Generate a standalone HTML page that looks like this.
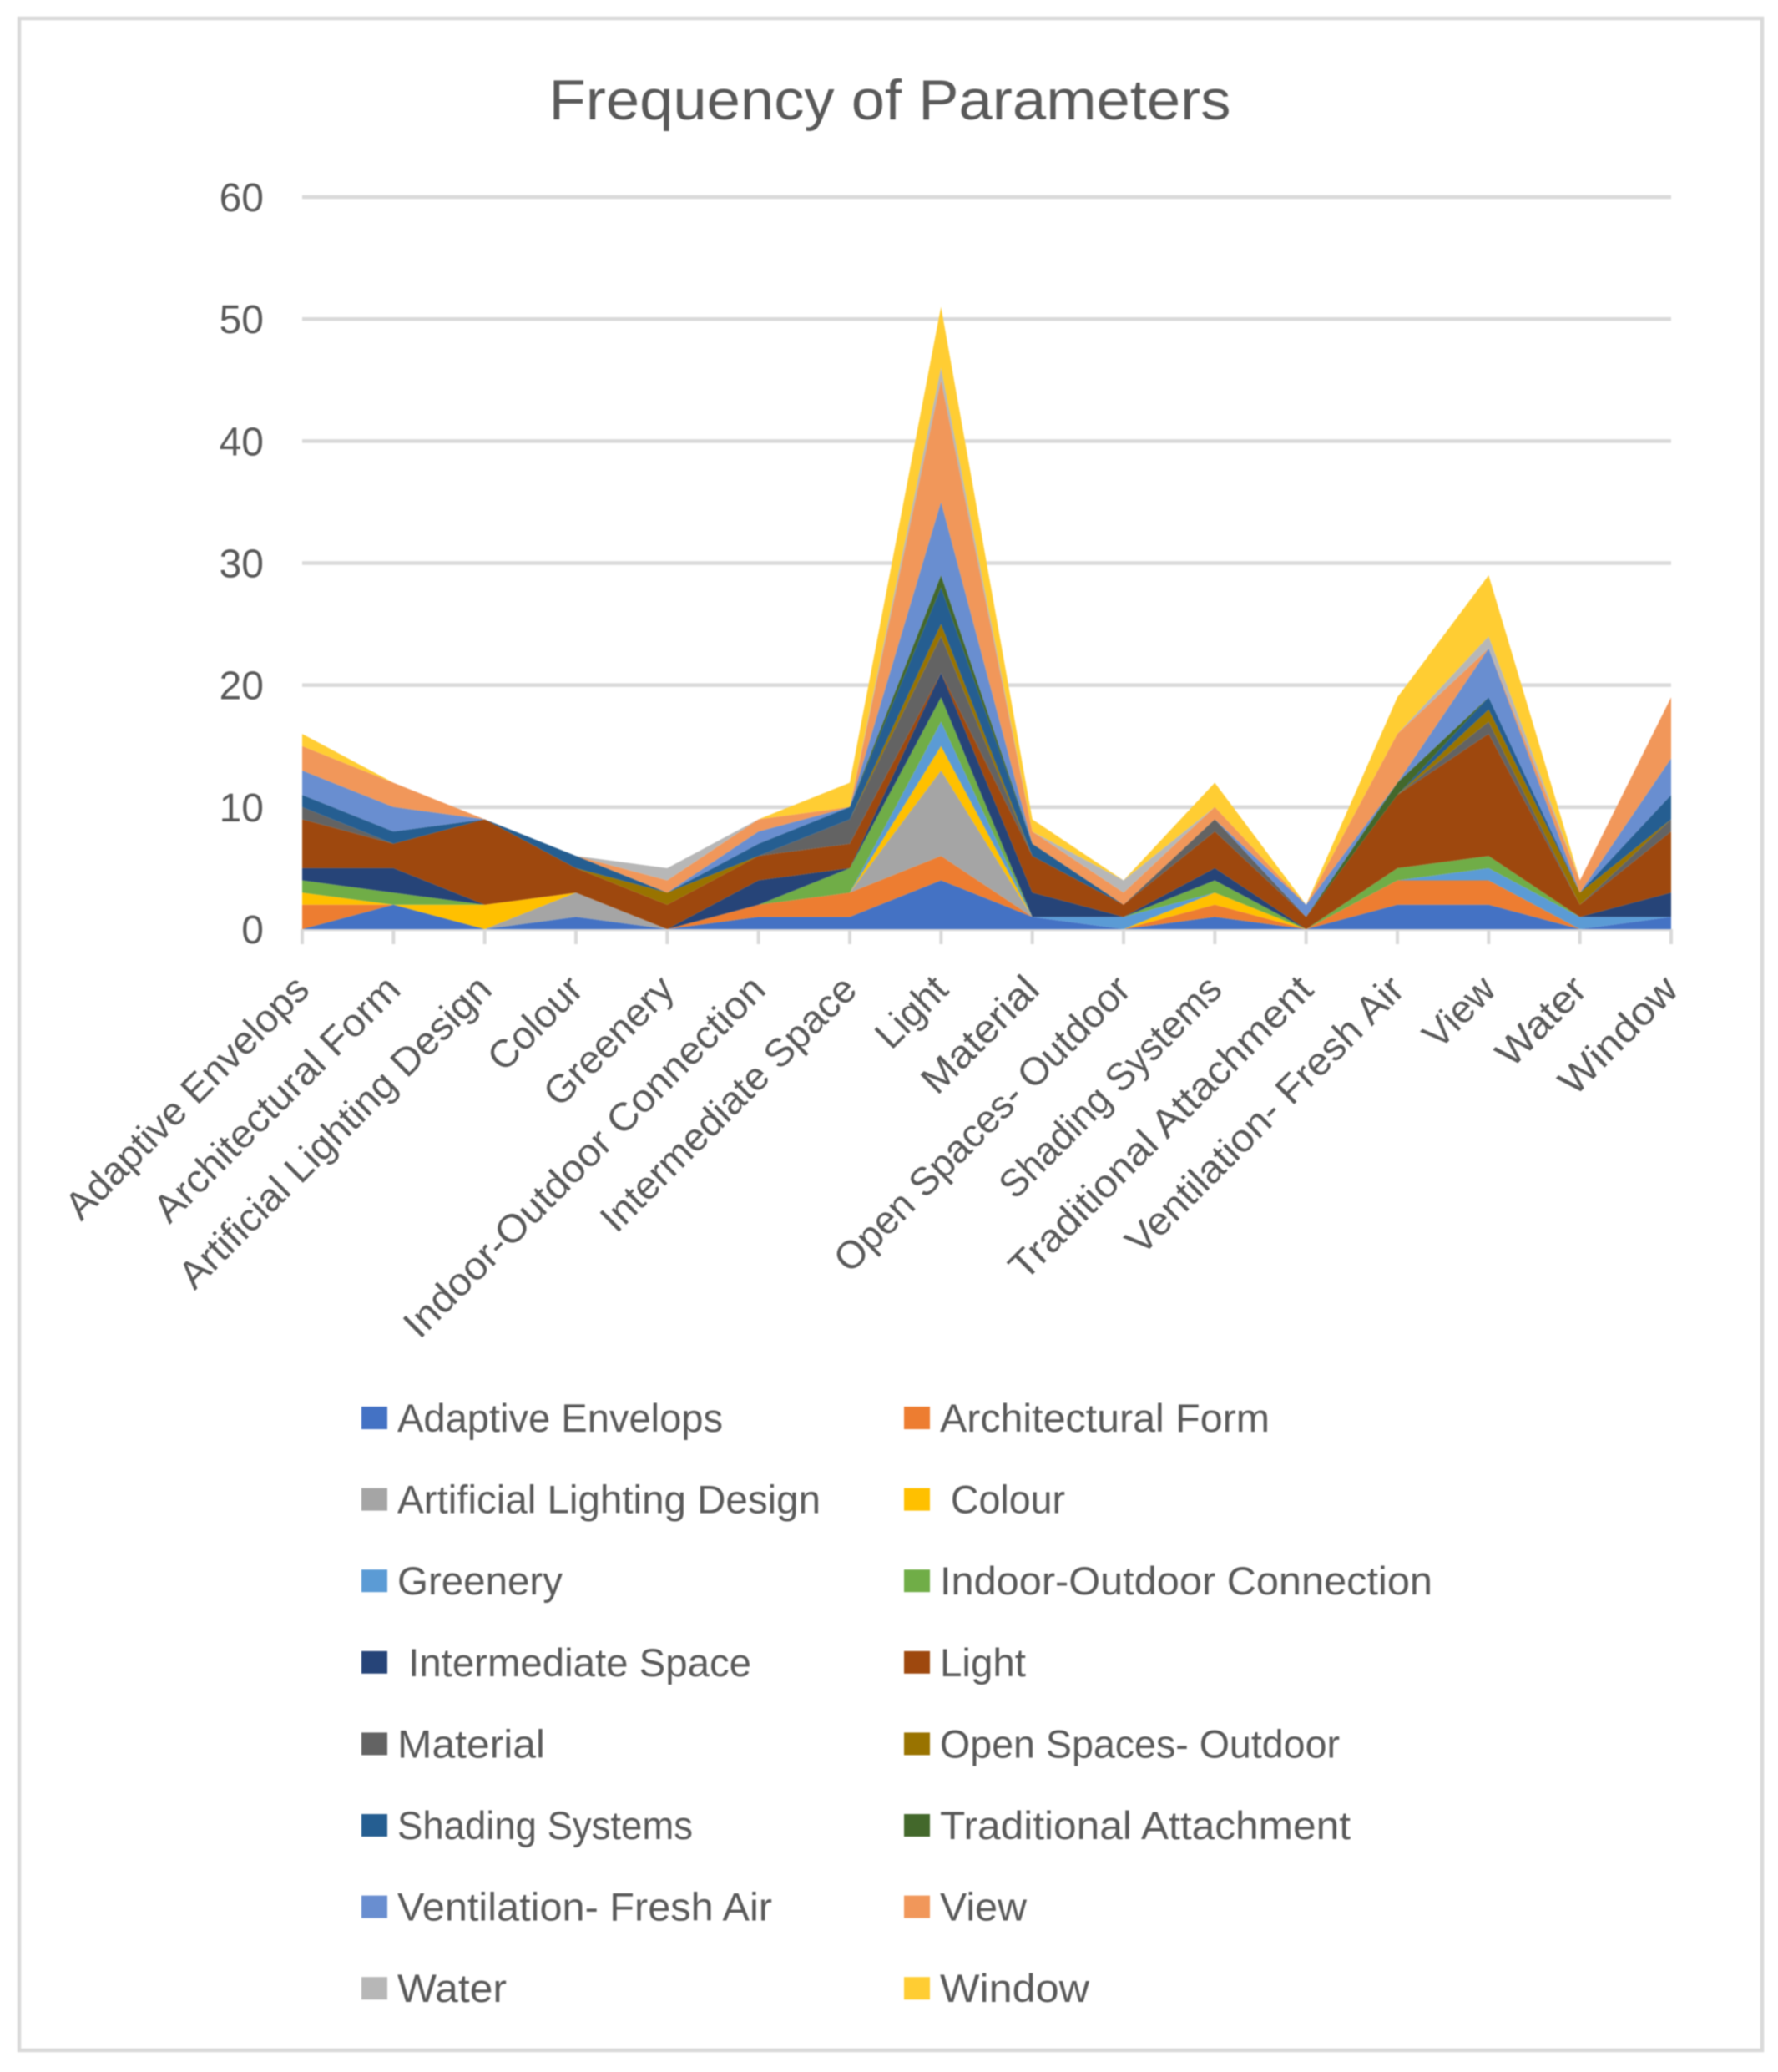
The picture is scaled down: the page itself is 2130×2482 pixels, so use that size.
<!DOCTYPE html>
<html lang="en">
<head>
<meta charset="utf-8">
<title>Frequency of Parameters</title>
<style>
html,body{margin:0;padding:0;background:#fff;width:2130px;height:2482px;overflow:hidden}
svg{display:block;filter:blur(0.8px)}
text{font-family:"Liberation Sans",sans-serif;fill:#595959;white-space:pre}
</style>
</head>
<body>
<svg id="chart" xmlns="http://www.w3.org/2000/svg" width="2130" height="2482" viewBox="0 0 2130 2482">
  <rect x="0" y="0" width="2130" height="2482" fill="#ffffff"/>
  <rect x="23" y="22" width="2088" height="2434" fill="#ffffff" stroke="#d9d9d9" stroke-width="4.5"/>
  <text x="1066" y="143" font-size="68" text-anchor="middle" textLength="817" lengthAdjust="spacingAndGlyphs">Frequency of Parameters</text>
  <g id="grid"></g>
  <g id="yaxis"></g>
  <g id="areas"></g>
  <g id="xaxis"></g>
  <g id="legend"></g>
</svg>
<script>
const categories = ["Adaptive Envelops","Architectural Form","Artificial Lighting Design","Colour","Greenery","Indoor-Outdoor Connection","Intermediate Space","Light","Material","Open Spaces- Outdoor","Shading Systems","Traditional Attachment","Ventilation- Fresh Air","View","Water","Window"];
const yTicks = [0,10,20,30,40,50,60];
const seriesNames = ["Adaptive Envelops","Architectural Form","Artificial Lighting Design"," Colour","Greenery","Indoor-Outdoor Connection"," Intermediate Space","Light","Material","Open Spaces- Outdoor","Shading Systems","Traditional Attachment","Ventilation- Fresh Air","View","Water","Window"];
const seriesColors = ["#4472C4","#ED7D31","#A5A5A5","#FFC000","#5B9BD5","#70AD47","#264478","#9E480E","#636363","#997300","#255E91","#43682B","#698ED0","#F1975A","#B7B7B7","#FFCD33"];

const adaptiveEnvelops   = [0,2,0,1,0,1,1,4,1,0,1,0,2,2,0,1];
const architecturalForm  = [2,0,0,0,0,1,2,2,0,0,1,0,2,2,0,0];
const artificialLighting = [0,0,0,2,0,0,0,7,0,0,0,0,0,0,0,0];
const colour             = [1,0,2,0,0,0,0,2,0,0,1,0,0,0,0,0];
const greenery           = [0,0,0,0,0,0,0,2,0,1,0,0,0,1,1,0];
const indoorOutdoor      = [1,1,0,0,0,0,2,2,0,0,1,0,1,1,0,0];
const intermediateSpace  = [1,2,0,0,0,2,0,2,2,0,1,0,0,0,0,2];
const light              = [4,2,7,2,2,2,2,0,3,1,3,1,6,10,1,5];
const material           = [1,0,0,0,0,0,2,3,0,0,1,0,0,1,0,1];
const openSpaces         = [0,0,0,0,1,0,0,1,0,0,0,0,0,1,1,0];
const shadingSystems     = [1,1,0,1,0,1,1,3,1,0,0,0,0,1,0,2];
const traditional        = [0,0,0,0,0,0,0,1,0,0,0,0,1,0,0,0];
const ventilation        = [2,2,0,0,0,1,0,6,0,0,0,1,0,4,0,3];
const viewSeries         = [2,2,0,0,1,1,0,10,1,1,1,0,4,0,1,5];
const water              = [0,0,0,0,1,0,0,1,0,1,0,0,0,1,0,0];
const windowSeries       = [1,0,0,0,0,0,2,5,1,0,2,0,3,5,0,0];

const seriesValues = [adaptiveEnvelops,architecturalForm,artificialLighting,colour,greenery,indoorOutdoor,intermediateSpace,light,material,openSpaces,shadingSystems,traditional,ventilation,viewSeries,water,windowSeries];

/* layout only: rendered text run lengths, to imitate the reference typeface's proportions */
const legendTextLengths = [390,395,507,150,198,590,424,103,177,479,354,492,449,104,131,179];
const categoryTextLengths = [390,395,507,138,198,590,411,100,177,479,354,492,449,100,131,179];

const NS = "http://www.w3.org/2000/svg";
const plotLeft = 362, plotRight = 2002, plotTop = 236, plotBottom = 1113, yMax = 60;
function xScale(i){ return plotLeft + (plotRight - plotLeft) * i / (categories.length - 1); }
function yScale(v){ return plotBottom - (plotBottom - plotTop) * v / yMax; }
function slug(s){ return s.trim().toLowerCase().replace(/[^a-z0-9]+/g,'-').replace(/-+$/,''); }

const gridG = document.getElementById('grid');
const yG = document.getElementById('yaxis');
yTicks.forEach(function(t){
  const line = document.createElementNS(NS,'line');
  line.setAttribute('x1', plotLeft);
  line.setAttribute('x2', plotRight);
  line.setAttribute('y1', yScale(t));
  line.setAttribute('y2', yScale(t));
  line.setAttribute('stroke', '#d9d9d9');
  line.setAttribute('stroke-width', '4.5');
  
  
  gridG.appendChild(line);
  const label = document.createElementNS(NS,'text');
  label.setAttribute('x', 316);
  label.setAttribute('y', yScale(t) + 17);
  label.setAttribute('font-size', '48');
  label.setAttribute('text-anchor', 'end');
  
  
  label.textContent = String(t);
  yG.appendChild(label);
});

const areasG = document.getElementById('areas');
const cumulative = categories.map(function(){ return 0; });
seriesValues.forEach(function(vals, s){
  const lower = cumulative.slice();
  vals.forEach(function(v, i){ cumulative[i] += v; });
  const pts = [];
  cumulative.forEach(function(c, i){ pts.push(xScale(i).toFixed(1) + ',' + yScale(c).toFixed(1)); });
  for (let i = categories.length - 1; i >= 0; i--) {
    pts.push(xScale(i).toFixed(1) + ',' + yScale(lower[i]).toFixed(1));
  }
  const poly = document.createElementNS(NS,'polygon');
  poly.setAttribute('points', pts.join(' '));
  poly.setAttribute('fill', seriesColors[s]);
  
  
  areasG.appendChild(poly);
});

const xG = document.getElementById('xaxis');
categories.forEach(function(c, i){
  const tick = document.createElementNS(NS,'line');
  tick.setAttribute('x1', xScale(i));
  tick.setAttribute('x2', xScale(i));
  tick.setAttribute('y1', plotBottom);
  tick.setAttribute('y2', plotBottom + 18);
  tick.setAttribute('stroke', '#d9d9d9');
  tick.setAttribute('stroke-width', '4');
  
  
  xG.appendChild(tick);
  const label = document.createElementNS(NS,'text');
  const lx = xScale(i) + 11;
  const ly = plotBottom + 75;
  label.setAttribute('x', lx);
  label.setAttribute('y', ly);
  label.setAttribute('font-size', '47');
  label.setAttribute('text-anchor', 'end');
  label.setAttribute('textLength', categoryTextLengths[i]);
  label.setAttribute('lengthAdjust', 'spacingAndGlyphs');
  label.setAttribute('transform', 'rotate(-45 ' + lx + ' ' + ly + ')');
  
  
  label.textContent = c;
  xG.appendChild(label);
});

const legendG = document.getElementById('legend');
seriesNames.forEach(function(n, s){
  const col = s % 2;
  const row = Math.floor(s / 2);
  const sx = col === 0 ? 433 : 1083;
  const cy = 1698 + row * 97.6;
  const swatch = document.createElementNS(NS,'rect');
  swatch.setAttribute('x', sx);
  swatch.setAttribute('y', cy - 13);
  swatch.setAttribute('width', 31);
  swatch.setAttribute('height', 27);
  swatch.setAttribute('fill', seriesColors[s]);
  
  
  legendG.appendChild(swatch);
  const label = document.createElementNS(NS,'text');
  label.setAttribute('x', sx + 43);
  label.setAttribute('y', cy + 17);
  label.setAttribute('font-size', '47');
  label.setAttribute('textLength', legendTextLengths[s]);
  label.setAttribute('lengthAdjust', 'spacingAndGlyphs');
  
  
  label.textContent = n;
  legendG.appendChild(label);
});
</script>
</body>
</html>
